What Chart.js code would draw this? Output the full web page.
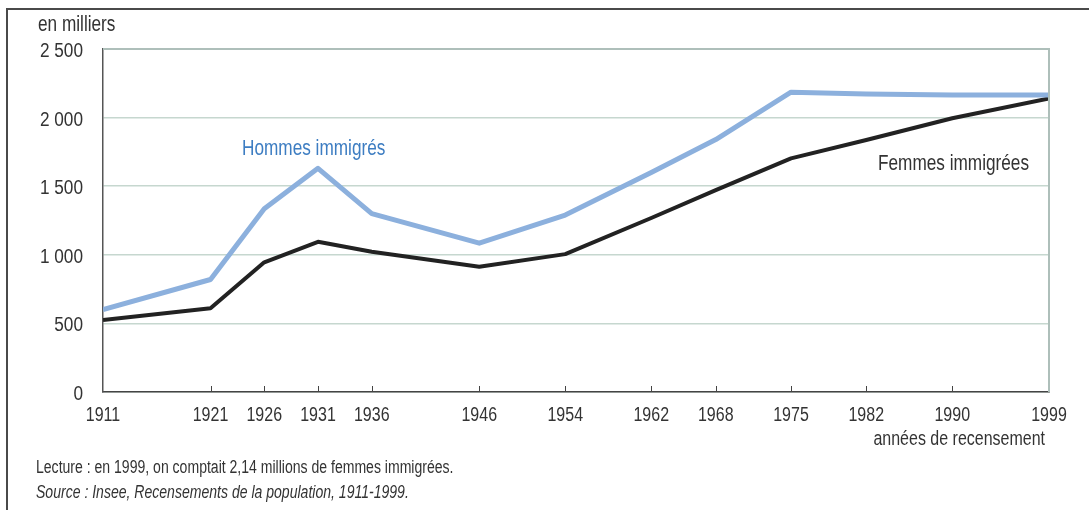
<!DOCTYPE html>
<html lang="fr">
<head>
<meta charset="utf-8">
<script src="https://cdn.jsdelivr.net/npm/chart.js@4/dist/chart.umd.min.js"></script>
<style>
  html, body { margin: 0; padding: 0; background: #fff; }
  #cadre { width: 1089px; height: 510px; position: relative; }
</style>
</head>
<body>
<div id="cadre"><canvas id="immigres"></canvas></div>
<script>
// années de recensement et effectifs (en milliers)
const annees = [1911, 1921, 1926, 1931, 1936, 1946, 1954, 1962, 1968, 1975, 1982, 1990, 1999];
const hommes = [600, 820, 1335, 1630, 1300, 1085, 1290, 1600, 1840, 2185, 2172, 2165, 2165];
const femmes = [525, 610, 945, 1095, 1022, 913, 1005, 1268, 1472, 1703, 1837, 1995, 2140];
const graduationsY = [0, 500, 1000, 1500, 2000, 2500];

const POLICE = "'Liberation Sans', Arial, sans-serif";

function milliers(v) {
    return String(v).replace(/\B(?=(\d{3})+(?!\d))/g, ' ');
}

// texte condensé horizontalement (la police d'origine est étroite)
function texte(ctx, str, x, y, taille, align, sx, style) {
    ctx.save();
    ctx.font = (style ? style + ' ' : '') + taille + 'px ' + POLICE;
    ctx.textAlign = align;
    ctx.textBaseline = 'alphabetic';
    ctx.translate(x, y);
    ctx.scale(sx, 1);
    ctx.fillText(str, 0, 0);
    ctx.restore();
}

// cadre, graduations, libellés et notes
const habillage = {
    id: 'habillage',
    afterDraw(chart) {
        const ctx = chart.ctx;
        const a = chart.chartArea;
        const x = chart.scales.x, y = chart.scales.y;
        ctx.save();

        // cadre extérieur (haut et gauche)
        ctx.strokeStyle = '#4a4a4a';
        ctx.lineWidth = 2;
        ctx.beginPath();
        ctx.moveTo(7, 510);
        ctx.lineTo(7, 9);
        ctx.lineTo(1089, 9);
        ctx.stroke();

        // bord haut et droit de la zone de tracé
        ctx.strokeStyle = '#aebfba';
        ctx.lineWidth = 2;
        ctx.beginPath();
        ctx.moveTo(a.left, a.top);
        ctx.lineTo(a.right, a.top);
        ctx.lineTo(a.right, a.bottom);
        ctx.stroke();

        // petites graduations vers l'intérieur
        ctx.strokeStyle = '#444';
        ctx.lineWidth = 1;
        annees.slice(1, -1).forEach(an => {
            const px = Math.round(x.getPixelForValue(an)) + 0.5;
            ctx.beginPath();
            ctx.moveTo(px, a.bottom);
            ctx.lineTo(px, a.bottom - 6);
            ctx.stroke();
        });

        ctx.fillStyle = '#333';
        // étiquettes des axes
        y.ticks.forEach(t => {
            texte(ctx, milliers(t.value), a.left - 20, y.getPixelForValue(t.value) + 8, 20, 'right', 0.86);
        });
        x.ticks.forEach(t => {
            texte(ctx, String(t.value), x.getPixelForValue(t.value), 421, 20, 'center', 0.8);
        });

        texte(ctx, 'en milliers', 38, 31, 21.5, 'left', 0.8);
        texte(ctx, 'années de recensement', 1045, 445, 20.5, 'right', 0.78);

        ctx.fillStyle = '#3d7dc2';
        texte(ctx, 'Hommes immigrés', 242, 155, 21.5, 'left', 0.8);
        ctx.fillStyle = '#333';
        texte(ctx, 'Femmes immigrées', 878, 170, 21.5, 'left', 0.8);

        texte(ctx, 'Lecture : en 1999, on comptait 2,14 millions de femmes immigrées.', 36, 473, 18, 'left', 0.78);
        texte(ctx, 'Source : Insee, Recensements de la population, 1911-1999.', 36, 498, 18, 'left', 0.78, 'italic');

        ctx.restore();
    }
};

document.addEventListener('DOMContentLoaded', function() {
    const ctx = document.getElementById('immigres').getContext('2d');

    const donnees = {
        datasets: [
            {
                label: 'Hommes immigrés',
                data: annees.map((an, i) => ({ x: an, y: hommes[i] })),
                borderColor: '#8cb0dd',
                borderWidth: 5,
                pointRadius: 0,
                tension: 0,
                borderJoinStyle: 'round'
            },
            {
                label: 'Femmes immigrées',
                data: annees.map((an, i) => ({ x: an, y: femmes[i] })),
                borderColor: '#222',
                borderWidth: 4,
                pointRadius: 0,
                tension: 0,
                borderJoinStyle: 'round'
            }
        ]
    };

    new Chart(ctx, {
        type: 'line',
        data: donnees,
        options: {
            responsive: true,
            maintainAspectRatio: false,
            animation: false,
            layout: { padding: { top: 49, right: 40, left: 0, bottom: 0 } },
            plugins: {
                legend: { display: false },
                tooltip: { enabled: false }
            },
            scales: {
                x: {
                    type: 'linear',
                    min: 1911,
                    max: 1999,
                    afterBuildTicks: scale => { scale.ticks = annees.map(v => ({ value: v })); },
                    afterFit: scale => { scale.height = 510 - 392; },
                    grid: { display: false, drawTicks: false },
                    border: { display: true, color: '#444', width: 1.5 },
                    ticks: { display: false }
                },
                y: {
                    min: 0,
                    max: 2500,
                    afterBuildTicks: scale => { scale.ticks = graduationsY.map(v => ({ value: v })); },
                    afterFit: scale => { scale.width = 103; },
                    grid: { color: '#c6d7cf', lineWidth: 1.5, drawTicks: false },
                    border: { display: true, color: '#555', width: 1.5 },
                    ticks: { display: false }
                }
            }
        },
        plugins: [habillage]
    });
});
</script>
</body>
</html>
